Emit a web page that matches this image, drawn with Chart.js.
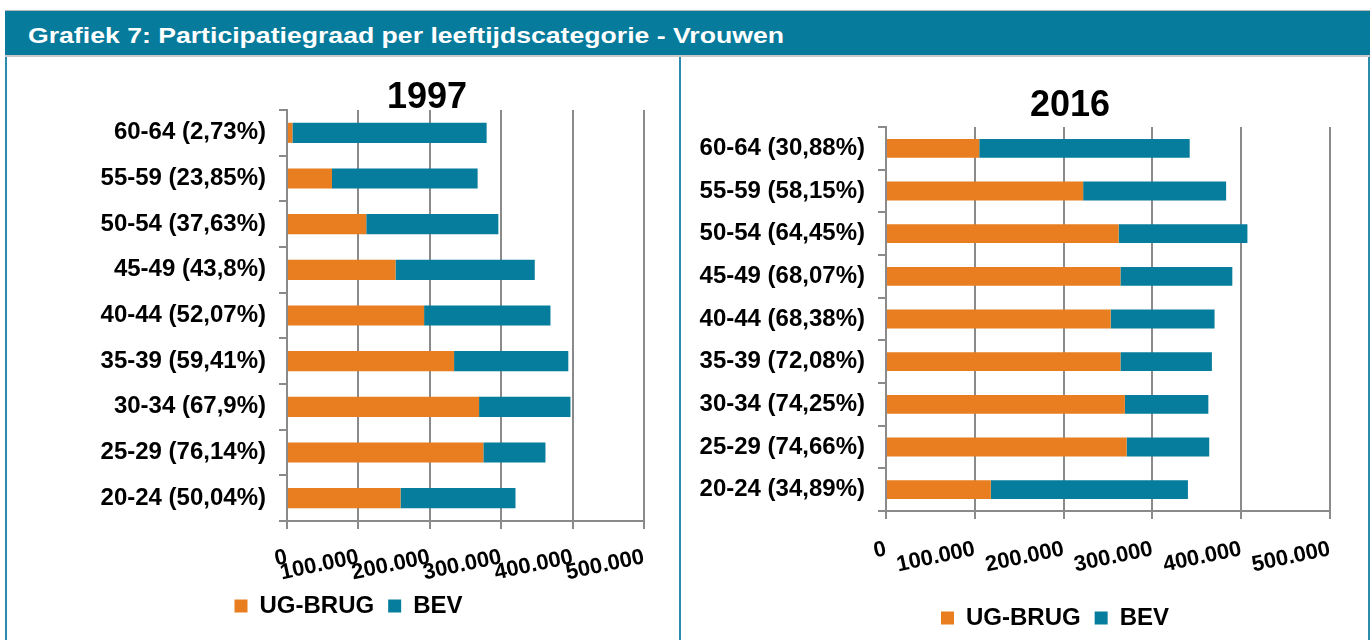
<!DOCTYPE html>
<html>
<head>
<meta charset="utf-8">
<script src="https://cdn.jsdelivr.net/npm/chart.js@4.4.1/dist/chart.umd.min.js"></script>
<style>
  body { margin: 0; width: 1372px; height: 640px; overflow: hidden; position: relative; background: #fff;
         font-family: "Liberation Sans", Arial, sans-serif; }
  #header { position: absolute; left: 5px; top: 10px; width: 1365px; height: 47px; box-sizing: border-box;
            background: #077b9b; border-top: 1px solid #b5b5b5; border-bottom: 2px solid #c9c9c9;
            color: #fff; font-weight: bold; font-size: 22px; line-height: 50px; padding-left: 23px; white-space: nowrap; }
  #header span { display: inline-block; transform: scaleX(1.21); transform-origin: left center; }
  .panel { position: absolute; top: 57px; height: 583px; }
  #leftPanel { left: 5px; width: 674px; border-left: 2px solid #2b8cab; box-sizing: border-box; }
  #rightPanel { left: 679px; width: 691px; border-left: 2px solid #2b8cab; border-right: 2px solid #2b8cab; box-sizing: border-box; }
  .year { position: absolute; font-weight: bold; font-size: 36px; color: #000; transform: translate(-50%, -50%); }
  canvas { position: absolute; top: 0; left: 0; }
</style>
</head>
<body>
<div id="header"><span>Grafiek 7: Participatiegraad per leeftijdscategorie - Vrouwen</span></div>
<div class="panel" id="leftPanel"><canvas id="chart1997"></canvas></div>
<div class="panel" id="rightPanel"><canvas id="chart2016"></canvas></div>
<div class="year" style="left:427px;top:96px">1997</div>
<div class="year" style="left:1070px;top:104px">2016</div>
<script>
// leeftijdscategorieën (van boven naar onder)
const labels1997 = ['60-64 (2,73%)', '55-59 (23,85%)', '50-54 (37,63%)', '45-49 (43,8%)', '40-44 (52,07%)',
                    '35-39 (59,41%)', '30-34 (67,9%)', '25-29 (76,14%)', '20-24 (50,04%)'];
const ugBrug1997 = [7600, 63000, 111000, 152000, 192000, 234000, 269000, 275000, 159000];
const bev1997 = [272000, 204000, 185000, 195000, 177000, 160000, 128000, 87000, 161000];

const labels2016 = ['60-64 (30,88%)', '55-59 (58,15%)', '50-54 (64,45%)', '45-49 (68,07%)', '40-44 (68,38%)',
                    '35-39 (72,08%)', '30-34 (74,25%)', '25-29 (74,66%)', '20-24 (34,89%)'];
const ugBrug2016 = [105000, 222000, 262000, 264000, 253000, 264000, 269000, 271000, 118000];
const bev2016 = [237000, 161000, 145000, 126000, 117000, 103000, 94000, 93000, 222000];

const xTicks = [0, 100000, 200000, 300000, 400000, 500000];
const seriesNames = ['UG-BRUG', 'BEV'];

const ORANGE = '#e87e1f';
const TEAL = '#067d9c';
const GRID = '#8a8a8a';

Chart.defaults.font.family = '"Liberation Sans", Arial, sans-serif';
Chart.defaults.color = '#000';

function fmt(v) {
    return String(v).replace(/\B(?=(\d{3})+(?!\d))/g, '.');
}

// nudge the legend sideways, the way the original sits off-centre
const legendShift = {
    id: 'legendShift',
    afterLayout(chart, args, opts) {
        if (!opts.dx) return;
        chart.legend.left += opts.dx;
        chart.legend.right += opts.dx;
    }
};

// lay: padding of the canvas, fixed axis sizes and tick label offset
function makeChart(id, w, h, labels, ug, bev, lay) {
    const canvas = document.getElementById(id);
    canvas.width = w;
    canvas.height = h;
    canvas.style.width = w + 'px';
    canvas.style.height = h + 'px';

    new Chart(canvas.getContext('2d'), {
        type: 'bar',
        data: {
            labels: labels,
            datasets: [
                { label: seriesNames[0], data: ug, backgroundColor: ORANGE, barPercentage: 0.44, categoryPercentage: 1 },
                { label: seriesNames[1], data: bev, backgroundColor: TEAL, barPercentage: 0.44, categoryPercentage: 1 }
            ]
        },
        plugins: [legendShift],
        options: {
            indexAxis: 'y',
            responsive: false,
            animation: false,
            layout: { padding: lay.pad },
            plugins: {
                legendShift: { dx: lay.legendDx },
                legend: {
                    position: 'bottom',
                    labels: {
                        boxWidth: 13,
                        boxHeight: 13,
                        padding: 14,
                        font: { size: 24, weight: 'bold' },
                        color: '#000'
                    }
                },
                tooltip: { enabled: false }
            },
            scales: {
                x: {
                    stacked: true,
                    min: 0,
                    max: 500000,
                    afterBuildTicks: axis => { axis.ticks = xTicks.map(v => ({ value: v })); },
                    afterFit: axis => { axis.height = lay.xHeight; },
                    ticks: {
                        autoSkip: false,
                        minRotation: 12,
                        maxRotation: 12,
                        padding: lay.xPad,
                        font: { size: 22, weight: 'bold' },
                        color: '#000',
                        callback: value => fmt(value)
                    },
                    grid: { color: GRID, lineWidth: 2, tickLength: 8 },
                    border: { color: GRID, width: 2 }
                },
                y: {
                    stacked: true,
                    afterFit: axis => { axis.width = lay.yWidth; },
                    ticks: {
                        padding: 13,
                        font: { size: 24, weight: 'bold' },
                        color: '#000'
                    },
                    grid: { drawOnChartArea: false, color: GRID, lineWidth: 2, tickLength: 8 },
                    border: { color: GRID, width: 2 }
                }
            }
        }
    });
}

makeChart('chart1997', 672, 583, labels1997, ugBrug1997, bev1997,
          { pad: { left: 46, right: 35, top: 53, bottom: 12 }, yWidth: 234, xHeight: 59, xPad: 15, legendDx: 0 });
makeChart('chart2016', 687, 583, labels2016, ugBrug2016, bev2016,
          { pad: { left: 5, right: 38, top: 70, bottom: 0 }, yWidth: 200, xHeight: 81, xPad: 17, legendDx: 47 });
</script>
</body>
</html>
